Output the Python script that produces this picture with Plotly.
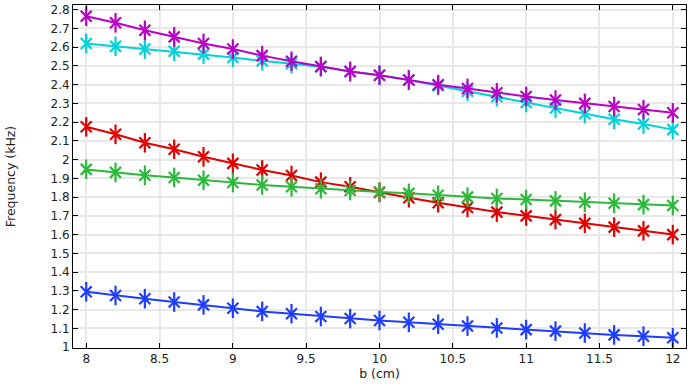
import plotly.graph_objects as go

b_cm = [8.0, 8.2, 8.4, 8.6, 8.8, 9.0, 9.2, 9.4, 9.6, 9.8, 10.0, 10.2, 10.4, 10.6, 10.8, 11.0, 11.2, 11.4, 11.6, 11.8, 12.0]

mode_blue = [1.295, 1.275, 1.258, 1.240, 1.225, 1.207, 1.190, 1.178, 1.163, 1.152, 1.142, 1.132, 1.122, 1.112, 1.102, 1.093, 1.085, 1.075, 1.065, 1.058, 1.050]
mode_red = [2.175, 2.135, 2.090, 2.055, 2.015, 1.980, 1.945, 1.915, 1.880, 1.855, 1.825, 1.797, 1.770, 1.745, 1.720, 1.700, 1.680, 1.660, 1.640, 1.620, 1.600]
mode_green = [1.948, 1.932, 1.917, 1.905, 1.890, 1.878, 1.865, 1.855, 1.845, 1.835, 1.827, 1.820, 1.810, 1.800, 1.793, 1.787, 1.780, 1.773, 1.767, 1.760, 1.755]
mode_cyan = [2.620, 2.605, 2.590, 2.578, 2.563, 2.545, 2.527, 2.512, 2.495, 2.470, 2.450, 2.425, 2.395, 2.365, 2.335, 2.305, 2.275, 2.245, 2.215, 2.190, 2.160]
mode_magenta = [2.765, 2.730, 2.690, 2.655, 2.620, 2.590, 2.555, 2.525, 2.497, 2.470, 2.450, 2.425, 2.400, 2.380, 2.357, 2.337, 2.318, 2.300, 2.283, 2.267, 2.250]

series = [
    ("blue", mode_blue, "#1f3dff"),
    ("red", mode_red, "#e00000"),
    ("green", mode_green, "#2db83d"),
    ("cyan", mode_cyan, "#00d2d8"),
    ("magenta", mode_magenta, "#bb00c6"),
]

x_ticks = [8, 8.5, 9, 9.5, 10, 10.5, 11, 11.5, 12]
y_ticks = [round(1 + 0.1 * i, 1) for i in range(19)]

fig = go.Figure()
for name, vals, col in series:
    fig.add_trace(go.Scatter(
        x=b_cm, y=vals, mode="lines+markers", name=name,
        line=dict(color=col, width=2),
        marker=dict(symbol="x-thin-open", size=11, color=col, line=dict(color=col, width=2.2)),
        showlegend=False, hoverinfo="skip",
    ))
    fig.add_trace(go.Scatter(
        x=b_cm, y=vals, mode="markers", name=name,
        marker=dict(symbol="line-ns-open", size=14, color=col, line=dict(color=col, width=2.2)),
        showlegend=False,
    ))

font_main = dict(family="DejaVu Sans", size=12, color="#222")
title_font = dict(family="DejaVu Sans", size=12.5, color="#222")
axis_common = dict(
    showline=True, linecolor="black", linewidth=1, mirror="ticks",
    ticks="inside", ticklen=5, tickcolor="black",
    showgrid=True, gridcolor="#e8e8e8", gridwidth=2, zeroline=False,
    tickfont=font_main, automargin=False,
)

fig.update_xaxes(range=[7.91, 12.09], tickvals=x_ticks, ticktext=[f"{v:g}" for v in x_ticks],
                 title=dict(text="b (cm)", font=title_font, standoff=3),
                 **axis_common)
fig.update_yaxes(range=[0.995, 2.825], tickvals=y_ticks, ticktext=[f"{v:g}" for v in y_ticks],
                 title=dict(text="Frequency (kHz)", font=title_font, standoff=32),
                 **axis_common)

fig.update_layout(
    width=690, height=388,
    margin=dict(l=73, r=4, t=5, b=40),
    plot_bgcolor="white", paper_bgcolor="white",
)

fig.write_html("out.html", config={"displayModeBar": False},
               post_script="document.body.style.margin='0';")
